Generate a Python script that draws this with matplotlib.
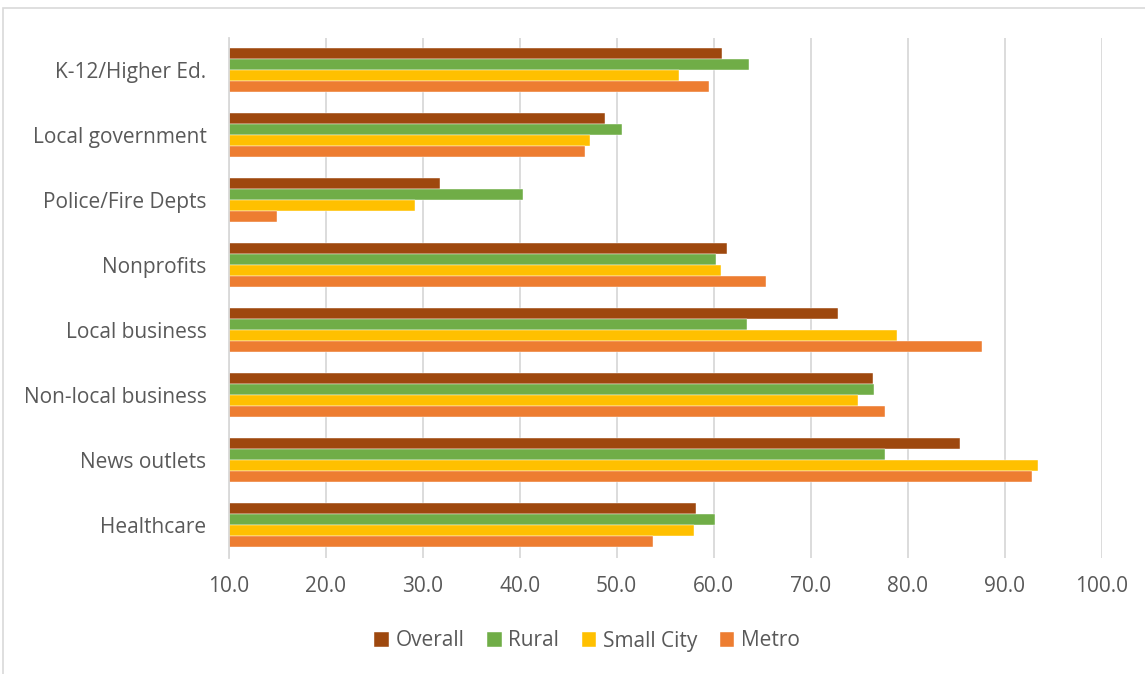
import numpy as np
import matplotlib.pyplot as plt
from matplotlib.patches import Rectangle

# categories, top to bottom as shown
categories = ['K-12/Higher Ed.', 'Local government', 'Police/Fire Depts', 'Nonprofits',
              'Local business', 'Non-local business', 'News outlets', 'Healthcare']

overall = [60.9, 48.8, 31.8, 61.4, 72.8, 76.4, 85.4, 58.2]
rural = [63.6, 50.5, 40.3, 60.2, 63.4, 76.5, 77.7, 60.1]
small_city = [56.4, 47.2, 29.2, 60.8, 78.9, 74.9, 93.4, 58.0]
metro = [59.5, 46.7, 15.0, 65.4, 87.7, 77.7, 92.8, 53.7]

series_names = ['Overall', 'Rural', 'Small City', 'Metro']
series_vals = [overall, rural, small_city, metro]
colors = ['#9E480E', '#70AD47', '#FFC000', '#ED7D31']

xticks = np.arange(10, 101, 10)

plt.rcParams['font.family'] = ['Open Sans', 'DejaVu Sans']

fig = plt.figure(figsize=(11.45, 6.74), dpi=100)
ax = fig.add_axes([0.1997, 0.1724, 0.9622 - 0.1997, 0.9439 - 0.1724])

# chart frame (Excel-like border, partially cut off)
fig.patches.append(Rectangle((3 / 1145, -0.1), 1.2, 1 - 8 / 674 + 0.1,
                             transform=fig.transFigure, fill=False,
                             edgecolor='#d9d9d9', linewidth=1.2, clip_on=False))

y = np.arange(len(categories))
h = 0.169
offsets = [-1.5, -0.5, 0.5, 1.5]
for name, vals, c, off in zip(series_names, series_vals, colors, offsets):
    ax.barh(y + off * h, np.array(vals) - 10, left=10, height=h, color=c,
            label=name, edgecolor='white', linewidth=0.3)

ax.set_xlim(10, 100)
ax.set_ylim(len(categories) - 0.5, -0.5)
ax.set_xticks(xticks)
ax.set_xticklabels(['%.1f' % t for t in xticks])
ax.set_yticks(y)
ax.set_yticklabels(categories)
ax.tick_params(axis='both', length=0, labelsize=15, colors='#595959')
ax.tick_params(axis='x', pad=13)
ax.tick_params(axis='y', pad=16)

ax.grid(axis='x', color='#d9d9d9', linewidth=1.3)
ax.set_axisbelow(True)
for s in ['top', 'right', 'bottom']:
    ax.spines[s].set_visible(False)
ax.spines['left'].set_color('#d9d9d9')
ax.spines['left'].set_linewidth(1.3)

fig.legend(loc='center', bbox_to_anchor=(587 / 1145, 1 - 641 / 674), ncol=4,
           frameon=False, fontsize=15, handlelength=0.7, handleheight=0.7,
           handletextpad=0.3, columnspacing=1.1, labelcolor='#595959')

plt.savefig('out.png', dpi=100)
